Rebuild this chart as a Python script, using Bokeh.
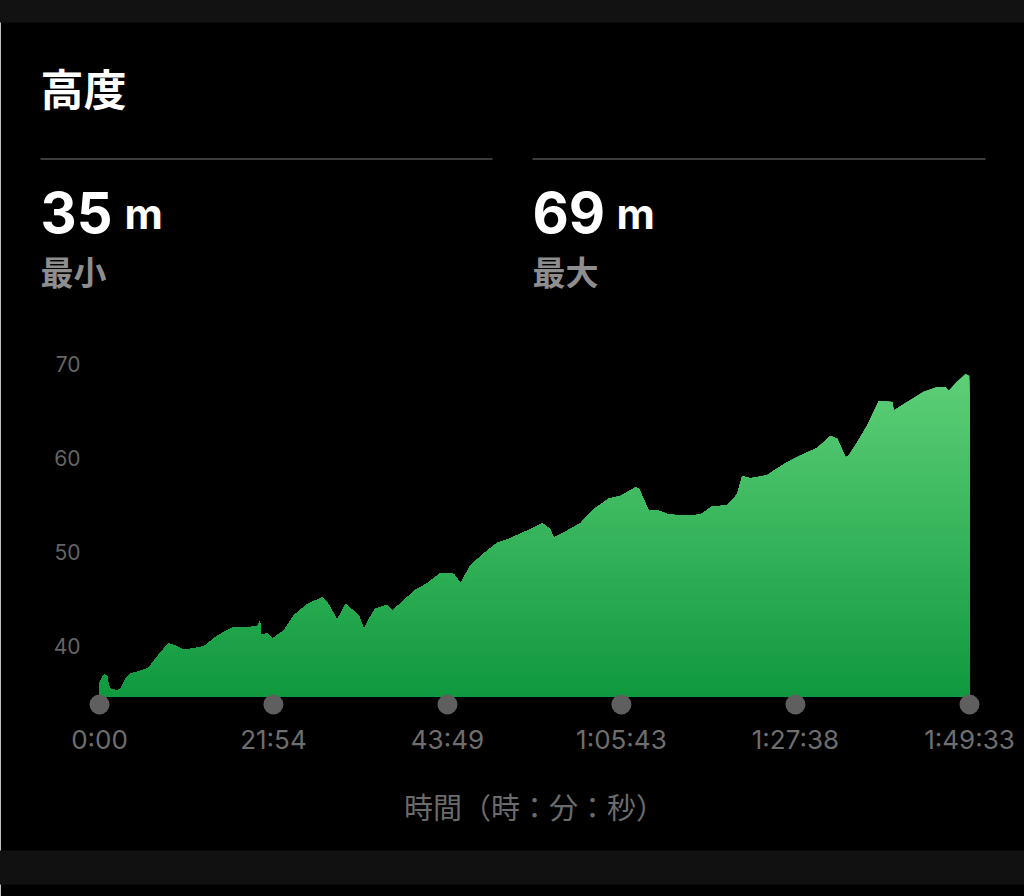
import numpy as np
from bokeh.plotting import figure
from bokeh.models import Range1d, FixedTicker
from bokeh.core.properties import value
from bokeh.embed import file_html
from bokeh.resources import INLINE

# ---------------- data ----------------
title_text = "高度"
stat_values = ["35", "69"]
stat_unit = "m"
stat_names = ["最小", "最大"]
x_axis_title = "時間（時：分：秒）"

time_min = [0.00, 0.34, 0.63, 0.97, 1.13, 1.39, 2.23, 2.64, 3.27, 3.90,
            5.16, 6.17, 7.27, 8.06, 8.73, 9.78, 10.45, 11.24, 13.13, 14.82,
            16.71, 19.86, 20.19, 20.36, 21.12, 21.75, 23.21, 24.47, 26.15, 28.04,
            28.67, 29.93, 30.98, 32.65, 33.28, 33.91, 34.75, 36.23, 36.86, 38.32,
            39.79, 41.26, 42.94, 44.61, 45.46, 46.72, 48.39, 50.08, 51.75, 53.86,
            55.74, 56.70, 57.21, 58.89, 60.57, 62.24, 64.13, 65.61, 67.49, 67.91,
            69.17, 70.23, 71.49, 73.16, 75.68, 77.15, 79.04, 80.30, 80.93, 81.98,
            84.08, 84.91, 86.59, 88.27, 90.37, 92.05, 92.89, 93.94, 94.35, 95.41,
            96.67, 98.13, 99.82, 100.02, 101.70, 103.79, 105.48, 106.53, 106.94, 108.00,
            109.05, 109.55]
elev_m = [36.0, 36.6, 36.9, 36.7, 35.8, 35.4, 35.2, 35.4, 36.4, 37.0,
          37.3, 37.6, 38.8, 39.6, 40.2, 39.9, 39.6, 39.6, 39.9, 41.0,
          41.9, 42.0, 42.6, 41.1, 41.3, 40.7, 41.6, 43.2, 44.4, 45.1,
          44.6, 42.7, 44.4, 43.2, 41.7, 42.8, 43.9, 44.3, 43.7, 44.8,
          45.9, 46.6, 47.7, 47.6, 46.6, 48.5, 49.8, 50.9, 51.4, 52.2,
          53.0, 52.4, 51.5, 52.2, 53.0, 54.5, 55.6, 55.9, 56.8, 56.7,
          54.3, 54.4, 54.0, 53.8, 53.9, 54.8, 54.9, 56.1, 58.0, 57.8,
          58.1, 58.6, 59.5, 60.2, 61.0, 62.3, 62.0, 60.0, 60.2, 61.6,
          63.4, 66.0, 65.9, 65.0, 65.9, 67.0, 67.5, 67.5, 67.1, 68.1,
          68.9, 68.7]

x_tick_seconds = [0, 1314, 2629, 3943, 5258, 6573]
x_tick_labels = ["0:00", "21:54", "43:49", "1:05:43", "1:27:38", "1:49:33"]
y_ticks = [40, 50, 60, 70]

# ---------------- layout helpers (screen px of the 1024x896 page) ----------------
X0, PX_PER_S = 99.0, 870.0 / 6573.0
Y40, PX_PER_M = 645.0, 9.4


def dx(X):
    return (X - X0) / PX_PER_S


def dy(Y):
    return 40.0 - (Y - Y40) / PX_PER_M


t_sec = np.array(time_min) * 60.0
elev = np.array(elev_m)
base = dy(696)

FIG_W, FIG_H = 1024, 896
p = figure(width=FIG_W, height=FIG_H, output_backend="svg", toolbar_location=None,
           x_range=Range1d(dx(88), dx(980)), y_range=Range1d(dy(716), dy(340)),
           min_border_left=88, min_border_right=44, min_border_top=340, min_border_bottom=180,
           background_fill_color="#000000", border_fill_color="#000000")
# a black outline hides the anti-aliasing seam between frame and border fills
p.outline_line_color = "#000000"
p.outline_line_width = 3
p.xgrid.visible = False
p.ygrid.visible = False

# ---------------- gradient area ----------------
top_rgb = np.array([94, 208, 120])
bot_rgb = np.array([16, 153, 63])
nb = 60
edges = np.linspace(base, elev.max(), nb + 1)
for i in range(nb, 0, -1):
    f = (i - 0.5) / nb
    c = (bot_rgb + (top_rgb - bot_rgb) * f).astype(int)
    col = "#%02x%02x%02x" % tuple(c)
    upper = elev if i == nb else np.minimum(elev, edges[i])
    p.varea(x=t_sec, y1=np.full_like(elev, base), y2=upper, fill_color=col)

# ---------------- tick dots ----------------
p.scatter(x=x_tick_seconds, y=[dy(704)] * len(x_tick_seconds), size=20,
          fill_color="#5f5f5f", line_color=None, level="overlay")

# ---------------- axes ----------------
xa = p.xaxis[0]
xa.ticker = FixedTicker(ticks=x_tick_seconds)
xa.major_label_overrides = {s: l for s, l in zip(x_tick_seconds, x_tick_labels)}
xa.axis_line_color = None
xa.major_tick_line_color = None
xa.minor_tick_line_color = None
xa.major_tick_out = 0
xa.major_tick_in = 0
xa.major_label_standoff = 7
xa.major_label_text_font = "Inter"
xa.major_label_text_font_size = "26px"
xa.major_label_text_color = "#6e6e6e"
xa.axis_label = x_axis_title
xa.axis_label_text_font = "Noto Sans CJK JP"
xa.axis_label_text_font_size = "29px"
xa.axis_label_text_font_style = "normal"
xa.axis_label_text_color = "#6b6b6b"
xa.axis_label_standoff = 27

ya = p.yaxis[0]
ya.ticker = FixedTicker(ticks=y_ticks)
ya.axis_line_color = None
ya.major_tick_line_color = None
ya.minor_tick_line_color = None
ya.major_tick_out = 0
ya.major_tick_in = 0
ya.major_label_standoff = 8
ya.major_label_text_font = "Inter"
ya.major_label_text_font_size = "21px"
ya.major_label_text_color = "#646464"

# ---------------- header / decorations ----------------
p.quad(left=dx(-10), right=dx(1034), top=dy(-10), bottom=dy(22), fill_color="#121212",
       line_color=None, level="overlay")
p.quad(left=dx(-10), right=dx(1034), top=dy(850), bottom=dy(884), fill_color="#111111",
       line_color=None, level="overlay")

p.text(x=[dx(40)], y=[dy(86)], text=[title_text], text_font=value("Noto Sans CJK JP"),
       text_font_size="43px", text_font_style="bold", text_color="#ffffff",
       text_baseline="alphabetic", level="overlay")

col_x = [40, 532]
sep_end = [492, 985]
p.segment(x0=[dx(c) for c in col_x], x1=[dx(e) for e in sep_end],
          y0=[dy(158.5)] * 2, y1=[dy(158.5)] * 2,
          line_color="#3c3c3c", line_width=2, level="overlay")
p.text(x=[dx(c) for c in col_x], y=[dy(212)] * 2, text=stat_values,
       text_font=value("Inter"), text_font_size="56px", text_font_style="bold",
       text_color="#ffffff", text_baseline="alphabetic", level="overlay")
p.text(x=[dx(c + 84) for c in col_x], y=[dy(213)] * 2, text=[stat_unit] * 2,
       text_font=value("Inter"), text_font_size="42px", text_font_style="bold",
       text_color="#ffffff", text_baseline="alphabetic", level="overlay")
p.text(x=[dx(c) for c in col_x], y=[dy(270)] * 2, text=stat_names,
       text_font=value("Noto Sans CJK JP"), text_font_size="33px", text_font_style="bold",
       text_color="#8e8e8e", text_baseline="alphabetic", level="overlay")

open("out.html", "w").write(file_html(p, INLINE))
